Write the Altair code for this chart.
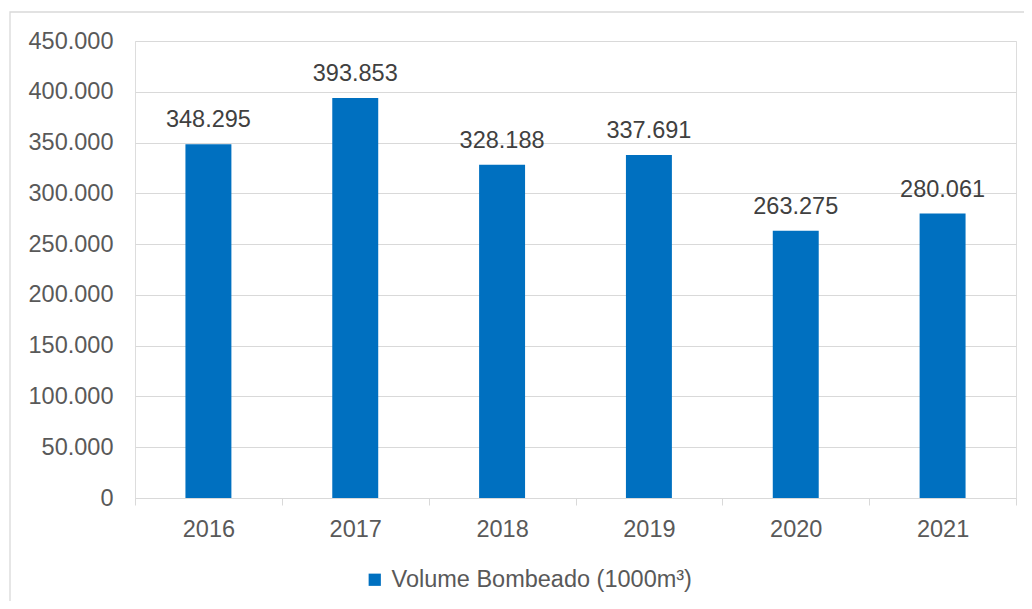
import altair as alt
import pandas as pd

years = ["2016", "2017", "2018", "2019", "2020", "2021"]
volumes = [348295, 393853, 328188, 337691, 263275, 280061]
series_name = "Volume Bombeado (1000m³)"

df = pd.DataFrame({"ano": years, "volume": volumes, "serie": [series_name] * len(years)})

BLUE = "#0070C0"
GRID = "#d9d9d9"
FONT = "Liberation Sans"

fmt = "replace(format(datum.volume, ','), /,/g, '.')"

base = alt.Chart(df)

bars = base.mark_bar(width=alt.RelativeBandSize(0.313)).encode(
    x=alt.X("ano:N", sort=years,
            scale=alt.Scale(paddingInner=0, paddingOuter=0),
            axis=alt.Axis(title=None, labelAngle=0, tickBand="extent", ticks=True,
                          tickSize=7, tickColor=GRID, domainColor=GRID,
                          labelFont=FONT, labelFontSize=23.5, labelColor="#595959",
                          labelPadding=12, grid=False)),
    y=alt.Y("volume:Q", scale=alt.Scale(domain=[0, 450000], nice=False),
            axis=alt.Axis(title=None, values=list(range(0, 450001, 50000)),
                          labelExpr="replace(format(datum.value, ','), /,/g, '.')",
                          domain=False, ticks=False, grid=True, gridColor=GRID,
                          labelFont=FONT, labelFontSize=23.5, labelColor="#595959",
                          labelPadding=22)),
    color=alt.Color("serie:N",
                    scale=alt.Scale(domain=[series_name], range=[BLUE]),
                    legend=alt.Legend(title=None, orient="none", legendX=228, legendY=527,
                                      direction="horizontal", symbolType="square",
                                      symbolSize=150, symbolStrokeWidth=0,
                                      labelFont=FONT, labelFontSize=23.5, labelLimit=0,
                                      labelColor="#595959", labelOffset=5, padding=0)),
)

labels = base.transform_calculate(lbl=fmt).mark_text(
    baseline="alphabetic", dy=-17, font=FONT, fontSize=23.5, color="#404040"
).encode(
    x=alt.X("ano:N", sort=years),
    y="volume:Q",
    text="lbl:N",
)

border = alt.Chart(pd.DataFrame({"k": [0]})).mark_rect(
    filled=False, stroke=GRID, strokeWidth=1.3
).encode(
    x=alt.value(-125), x2=alt.value(895), y=alt.value(-29), y2=alt.value(580)
)

chart = alt.layer(border, bars, labels).properties(
    width=881, height=457, autosize="none",
    padding={"left": 127, "top": 33, "right": 8, "bottom": 103},
).configure_view(stroke=None).configure(background="white")

chart.save("out.html", embed_options={"renderer": "svg", "actions": False})
